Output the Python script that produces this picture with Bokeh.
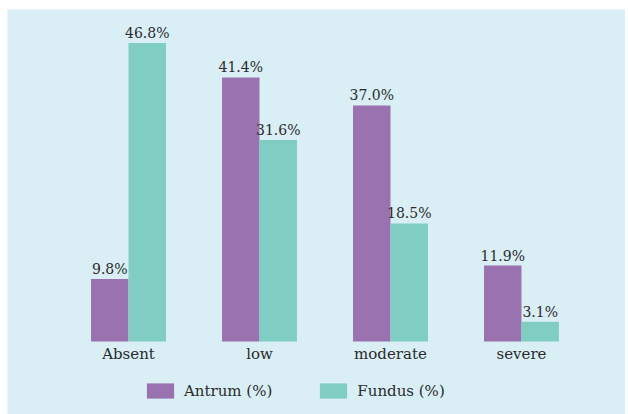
from bokeh.plotting import figure
from bokeh.models import ColumnDataSource, Legend, LegendItem, Range1d
from bokeh.transform import dodge
from bokeh.embed import file_html
from bokeh.resources import INLINE

categories = ["Absent", "low", "moderate", "severe"]
antrum = [9.8, 41.4, 37.0, 11.9]
fundus = [46.8, 31.6, 18.5, 3.1]
series_names = ["Antrum (%)", "Fundus (%)"]

BG = "#d9eef5"
PURPLE = "#9a72b0"
TEAL = "#80cdc3"
FONT = "DejaVu Serif"
TXT = "#2b2b2b"

src = ColumnDataSource(dict(
    cat=categories,
    idx=list(range(len(categories))),
    zero=[0] * len(categories),
    antrum=antrum,
    fundus=fundus,
    antrum_lbl=[f"{v:.1f}%" for v in antrum],
    fundus_lbl=[f"{v:.1f}%" for v in fundus],
))

p = figure(width=618, height=405, x_range=Range1d(-0.9237, 3.794),
           y_range=Range1d(-11.44, 52.04), output_backend="svg",
           toolbar_location=None, min_border=0)
p.margin = (9, 3, 0, 7)
p.background_fill_color = BG
p.border_fill_color = BG
p.outline_line_color = None
p.grid.visible = False
p.xaxis.visible = False
p.yaxis.visible = False

bw = 0.286
r1 = p.vbar(x=dodge("idx", -bw / 2), top="antrum", width=bw,
            source=src, fill_color=PURPLE, line_color=None)
r2 = p.vbar(x=dodge("idx", bw / 2), top="fundus", width=bw,
            source=src, fill_color=TEAL, line_color=None)

p.text(x=dodge("idx", -bw / 2), y="antrum", text="antrum_lbl",
       source=src, text_align="center", text_baseline="bottom", y_offset=-2,
       text_font={"value": FONT}, text_font_size="14px", text_color=TXT)
p.text(x=dodge("idx", bw / 2), y="fundus", text="fundus_lbl",
       source=src, text_align="center", text_baseline="bottom", y_offset=-2,
       text_font={"value": FONT}, text_font_size="14px", text_color=TXT)

# category labels under the baseline
p.text(x="idx", y="zero", text="cat", source=src, text_align="center",
       text_baseline="top", y_offset=3,
       text_font={"value": FONT}, text_font_size="15px", text_color=TXT)

legend = Legend(items=[LegendItem(label=series_names[0], renderers=[r1]),
                       LegendItem(label=series_names[1], renderers=[r2])],
                orientation="horizontal", location=(136, 14),
                glyph_width=34, glyph_height=19, label_standoff=7, spacing=44,
                padding=0, margin=0, border_line_color=None,
                background_fill_alpha=0, label_text_font=FONT,
                label_text_font_size="15px", label_text_color=TXT)
p.add_layout(legend, "center")

open("out.html", "w").write(file_html(p, INLINE))
